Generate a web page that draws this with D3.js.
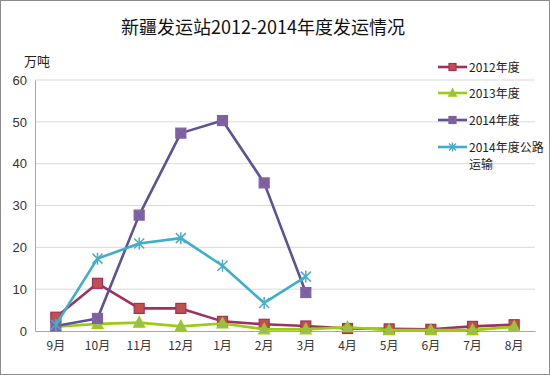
<!DOCTYPE html>
<html><head><meta charset="utf-8">
<script src="https://cdn.jsdelivr.net/npm/d3@7/dist/d3.min.js"></script>
<style>body{margin:0;background:#fff}svg{display:block}</style>
</head><body><svg id="c" width="550" height="375"></svg>
<script>
const months = ["9月","10月","11月","12月","1月","2月","3月","4月","5月","6月","7月","8月"];
const s2012 = [3.3,11.4,5.4,5.4,2.3,1.6,1.2,0.6,0.5,0.4,1.1,1.5];
const s2013 = [1.0,1.7,2.0,1.1,1.8,0.4,0.4,0.9,0.2,0.2,0.2,1.0];
const s2014 = [1.2,3.0,27.7,47.3,50.3,35.4,9.2];
const s2014road = [1.5,17.3,20.9,22.2,15.6,6.7,13.0];
const yTicks = [0,10,20,30,40,50,60];
const seriesNames = ["2012年度","2013年度","2014年度","2014年度公路运输"];

const series = [
  {name:seriesNames[0], values:s2012, line:"#A0305F", fill:"#C0504D", stroke:"#A0305F", marker:"square"},
  {name:seriesNames[1], values:s2013, line:"#9ACD12", fill:"#9BBB59", stroke:"#9ACD12", marker:"triangle"},
  {name:seriesNames[2], values:s2014, line:"#5E5197", fill:"#8064A2", stroke:"#8064A2", marker:"square"},
  {name:seriesNames[3], values:s2014road, line:"#3FAECB", fill:"none", stroke:"#4BACC6", marker:"star"}
];

const svg = d3.select("#c");
svg.append("rect").attr("x",0.5).attr("y",0.5).attr("width",549).attr("height",374)
  .attr("fill","#fff").attr("stroke","#8c8c8c");

const x = d3.scaleBand().domain(months).range([35,535]);
const y = d3.scaleLinear().domain([0,60]).range([331,80]);
const font = "'Liberation Sans', Arial, sans-serif";

// gridlines
svg.append("g").selectAll("line").data(yTicks.slice(1)).join("line")
  .attr("x1",35).attr("x2",535).attr("y1",d=>y(d)).attr("y2",d=>y(d))
  .attr("stroke","#d9d9d9").attr("stroke-width",1);

// y axis
const ya = svg.append("g").attr("transform","translate(35,0)")
  .call(d3.axisLeft(y).tickValues(yTicks).tickSize(0).tickPadding(8));
ya.select(".domain").attr("stroke","#a6a6a6");
ya.selectAll("text").attr("font-family",font).attr("font-size",13).attr("fill","#333");

// x axis
const xa = svg.append("g").attr("transform","translate(0,331)")
  .call(d3.axisBottom(x).tickSize(0).tickPadding(10));
xa.select(".domain").attr("stroke","#a6a6a6");
xa.selectAll("text").attr("font-family","'Noto Sans CJK SC', sans-serif").attr("font-size",12).attr("fill","#333");

// title
svg.append("text").attr("x",263).attr("y",34).attr("text-anchor","middle")
  .attr("font-family","'Noto Sans CJK SC', serif").attr("font-size",18).attr("fill","#111")
  .text("新疆发运站2012-2014年度发运情况");
svg.append("text").attr("x",24).attr("y",66)
  .attr("font-family","'Noto Sans CJK SC', sans-serif").attr("font-size",13).attr("fill","#222")
  .text("万吨");

function drawMarker(g, s, cx, cy, size){
  if(s.marker==="square"){
    g.append("rect").attr("x",cx-size/2).attr("y",cy-size/2).attr("width",size).attr("height",size)
      .attr("fill",s.fill).attr("stroke",s.stroke).attr("stroke-width",1.2);
    if(s.name===seriesNames[2]){
      g.append("path").attr("d",`M${cx-size/2},${cy-size/2}L${cx+size/2},${cy+size/2}M${cx+size/2},${cy-size/2}L${cx-size/2},${cy+size/2}`)
        .attr("stroke","#6d58a0").attr("stroke-width",0.8);
    }
  } else if(s.marker==="triangle"){
    const h=size;
    g.append("path").attr("d",`M${cx},${cy-h*0.6}L${cx+h*0.55},${cy+h*0.45}L${cx-h*0.55},${cy+h*0.45}Z`)
      .attr("fill",s.fill).attr("stroke",s.stroke).attr("stroke-width",1.2);
  } else {
    const r=size/2;
    g.append("path").attr("d",`M${cx-r},${cy-r}L${cx+r},${cy+r}M${cx+r},${cy-r}L${cx-r},${cy+r}M${cx},${cy-r-1}L${cx},${cy+r+1}`)
      .attr("stroke",s.stroke).attr("stroke-width",1.5);
  }
}

const line = d3.line().x((d,i)=>x(months[i])+x.bandwidth()/2).y(d=>y(d));
series.forEach(s=>{
  const g = svg.append("g");
  g.append("path").attr("d",line(s.values)).attr("fill","none")
    .attr("stroke",s.line).attr("stroke-width",2.6).attr("stroke-linejoin","round");
  s.values.forEach((v,i)=>drawMarker(g,s,x(months[i])+x.bandwidth()/2,y(v),10));
});

// legend
const legY = [67,93,120,147];
series.forEach((s,i)=>{
  const g = svg.append("g");
  const ly = legY[i];
  g.append("line").attr("x1",438).attr("x2",467).attr("y1",ly).attr("y2",ly)
    .attr("stroke",s.line).attr("stroke-width",2.6);
  drawMarker(g,s,452.5,ly,7);
  const t = g.append("text").attr("x",469).attr("y",ly+4.5)
    .attr("font-family","'Noto Sans CJK SC', sans-serif").attr("font-size",12).attr("fill","#222");
  if(i===3){
    t.append("tspan").attr("x",469).text("2014年度公路");
    t.append("tspan").attr("x",469).attr("dy",17).text("运输");
  } else t.text(s.name);
});
</script></body></html>
